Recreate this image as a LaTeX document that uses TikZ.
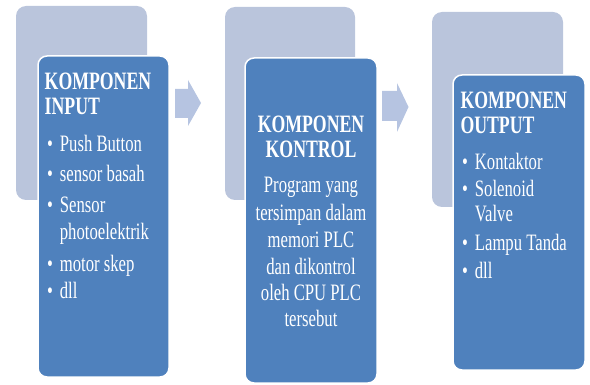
\documentclass[tikz,border=0pt]{standalone}
\usepackage{fontspec}
\setmainfont[FakeStretch=0.71]{Liberation Serif}
\definecolor{frontc}{HTML}{4F81BD}
\definecolor{backc}{RGB}{186,197,220}
\definecolor{arrowc}{RGB}{182,196,225}
\begin{document}
\begin{tikzpicture}[x=1pt,y=-1pt,
  backbox/.style={fill=backc, rounded corners=10pt},
  frontbox/.style={fill=frontc, draw=white, line width=1.5pt, rounded corners=9pt},
  flowarrow/.style={fill=arrowc},
  ttl/.style={text=white, font=\fontsize{25}{25}\selectfont\bfseries, inner sep=0pt, anchor=base west},
  ttlc/.style={ttl, anchor=base},
  itm/.style={text=white, font=\fontsize{23.5}{23.5}\selectfont, inner sep=0pt, anchor=base west},
  itmc/.style={itm, anchor=base},
  blt/.style={itm}
]
\useasboundingbox (0,0) rectangle (590,385);
% panel backs
\fill[backbox] (16,6) rectangle (147,200);
\fill[backbox] (225,7) rectangle (355,200);
\fill[backbox] (432,12) rectangle (563,207);
% panel fronts
\filldraw[frontbox] (38,56) rectangle (169,377);
\filldraw[frontbox] (245,58) rectangle (377,383);
\filldraw[frontbox] (453,75) rectangle (585,370);
% arrows
\fill[flowarrow] (175,89) -- (188,89) -- (188,80) -- (201,103) -- (188,126) -- (188,118) -- (175,118) -- cycle;
\fill[flowarrow] (382,91) -- (397,91) -- (397,83) -- (408.5,107) -- (397,132) -- (397,121) -- (382,121) -- cycle;
% panel 1
\node[ttl] (t1a) at (44.5,90) {KOMPONEN};
\node[ttl] (t1b) at (44.5,115) {INPUT};
\node[blt] (b1a) at (47,151.7) {•};
\node[itm] (i1a) at (59.7,151.7) {Push Button};
\node[blt] (b1b) at (47,181.7) {•};
\node[itm] (i1b) at (59.7,181.7) {sensor basah};
\node[blt] (b1c) at (47,213) {•};
\node[itm] (i1c) at (59.7,213) {Sensor};
\node[itm] (i1d) at (59.7,240) {photoelektrik};
\node[blt] (b1e) at (47,271.7) {•};
\node[itm] (i1e) at (59.7,271.7) {motor skep};
\node[blt] (b1f) at (47,299) {•};
\node[itm] (i1f) at (59.7,299) {dll};
% panel 2
\node[ttlc] (t2a) at (311,132.3) {KOMPONEN};
\node[ttlc] (t2b) at (311,157.3) {KONTROL};
\node[itmc] (i2a) at (311,193) {Program yang};
\node[itmc] (i2b) at (311,221) {tersimpan dalam};
\node[itmc] (i2c) at (311,248) {memori PLC};
\node[itmc] (i2d) at (311,274.5) {dan dikontrol};
\node[itmc] (i2e) at (311,301) {oleh CPU PLC};
\node[itmc] (i2f) at (311,326.7) {tersebut};
% panel 3
\node[ttl] (t3a) at (460.3,108.3) {KOMPONEN};
\node[ttl] (t3b) at (460.3,133.3) {OUTPUT};
\node[blt] (b3a) at (462,170) {•};
\node[itm] (i3a) at (474.7,170) {Kontaktor};
\node[blt] (b3b) at (462,196.7) {•};
\node[itm] (i3b) at (474.7,196.7) {Solenoid};
\node[itm] (i3c) at (474.7,221.7) {Valve};
\node[blt] (b3d) at (462,251) {•};
\node[itm] (i3d) at (474.7,251) {Lampu Tanda};
\node[blt] (b3e) at (462,278.3) {•};
\node[itm] (i3e) at (474.7,278.3) {dll};
\end{tikzpicture}
\end{document}
